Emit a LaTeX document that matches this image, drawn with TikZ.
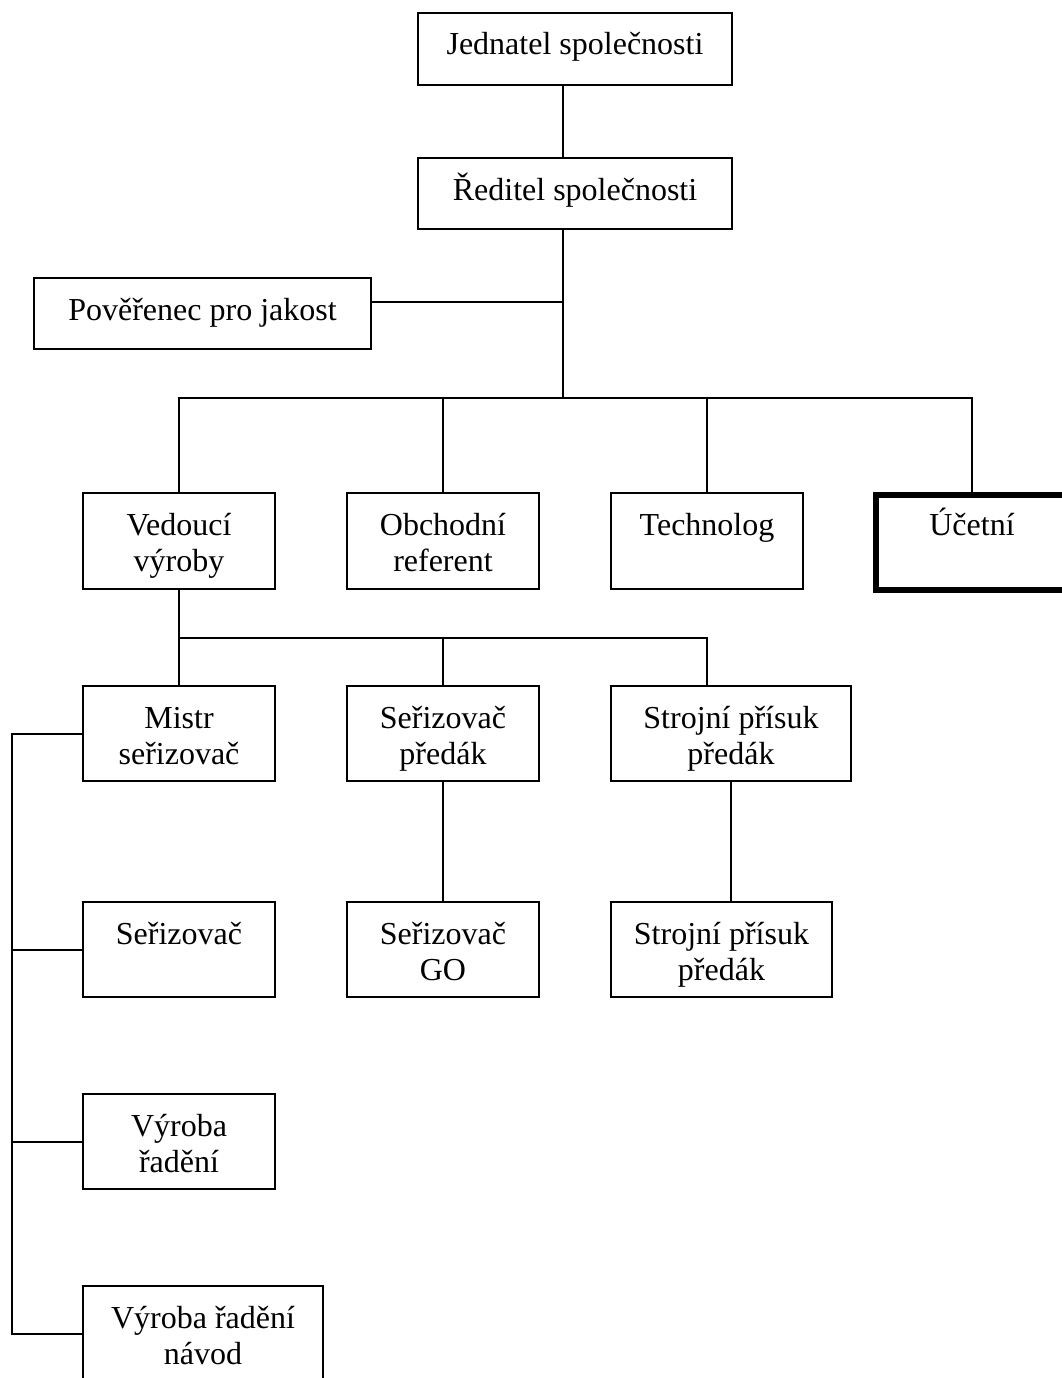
\documentclass[tikz,border=0pt]{standalone}
\usepackage{fontspec}
\setmainfont{Liberation Serif}
\begin{document}
\begin{tikzpicture}[x=1pt,y=-1pt,
  line width=2pt,
  box/.style={draw, rectangle, anchor=north west, outer sep=0pt, inner sep=0pt},
  lbl/.style={anchor=base, yshift=-42pt, align=center, inner sep=0pt,
    font=\fontsize{32pt}{36.8pt}\selectfont},
  lbltwo/.style={lbl, yshift=-36.8pt},
  heavy/.style={line width=6pt}]
\useasboundingbox (0,0) rectangle (1061,1378);

% management
\node[box, minimum width=314pt, minimum height=72pt,
  label={[lbl]north:{Jednatel společnosti}}] (jed) at (418,13) {};
\node[box, minimum width=314pt, minimum height=71pt,
  label={[lbl]north:{Ředitel společnosti}}] (red) at (418,158) {};
\node[box, minimum width=337pt, minimum height=71pt,
  label={[lbl]north:{Pověřenec pro jakost}}] (pov) at (34,278) {};

% departments
\node[box, minimum width=192pt, minimum height=96pt,
  label={[lbltwo]north:{Vedoucí\\výroby}}] (ved) at (83,493) {};
\node[box, minimum width=192pt, minimum height=96pt,
  label={[lbltwo]north:{Obchodní\\referent}}] (obc) at (347,493) {};
\node[box, minimum width=192pt, minimum height=96pt,
  label={[lbl]north:{Technolog}}] (tec) at (611,493) {};
\node[box, heavy, minimum width=192pt, minimum height=95pt,
  label={[lbl,yshift=1.5pt]north:{Účetní}}] (uct) at (876,494.5) {};

% production
\node[box, minimum width=192pt, minimum height=95pt,
  label={[lbltwo]north:{Mistr\\seřizovač}}] (mis) at (83,686) {};
\node[box, minimum width=192pt, minimum height=95pt,
  label={[lbltwo]north:{Seřizovač\\předák}}] (spr) at (347,686) {};
\node[box, minimum width=240pt, minimum height=95pt,
  label={[lbltwo]north:{Strojní přísuk\\předák}}] (stp) at (611,686) {};

\node[box, minimum width=192pt, minimum height=95pt,
  label={[lbl]north:{Seřizovač}}] (ser) at (83,902) {};
\node[box, minimum width=192pt, minimum height=95pt,
  label={[lbltwo]north:{Seřizovač\\GO}}] (sgo) at (347,902) {};
\node[box, minimum width=221pt, minimum height=95pt,
  label={[lbltwo]north:{Strojní přísuk\\předák}}] (stq) at (611,902) {};

\node[box, minimum width=192pt, minimum height=95pt,
  label={[lbltwo]north:{Výroba\\řadění}}] (vr) at (83,1094) {};
\node[box, minimum width=240pt, minimum height=96pt,
  label={[lbltwo]north:{Výroba řadění\\návod}}] (vrn) at (83,1286) {};

% junction points
\coordinate (bus) at (563,398);
\coordinate (povj) at (563,302);
\coordinate (bus2) at (179,638);
\coordinate (stpj) at (707,638);
\coordinate (rail) at (12,733);

% connectors
\draw (jed.south -| bus) -- (red.north -| bus);
\draw (red.south -| bus) -- (bus);
\draw (povj -| pov.east) -- (povj);
\draw (ved.north) |- (bus) -| (uct.north);
\draw (obc.north) -- (obc.north |- bus);
\draw (tec.north) -- (tec.north |- bus);

\draw (ved.south) -- (bus2) -| (stp.north -| stpj);
\draw (spr.north) -- (spr.north |- bus2);
\draw (mis.north) -- (bus2);

\draw (spr.south) -- (sgo.north);
\draw (stp.south) -- (stp.south |- stq.north);

\draw (mis.west) -- (mis.west -| rail) |- (vrn.west);
\draw (ser.west) -- (ser.west -| rail);
\draw (vr.west) -- (vr.west -| rail);
\end{tikzpicture}
\end{document}
